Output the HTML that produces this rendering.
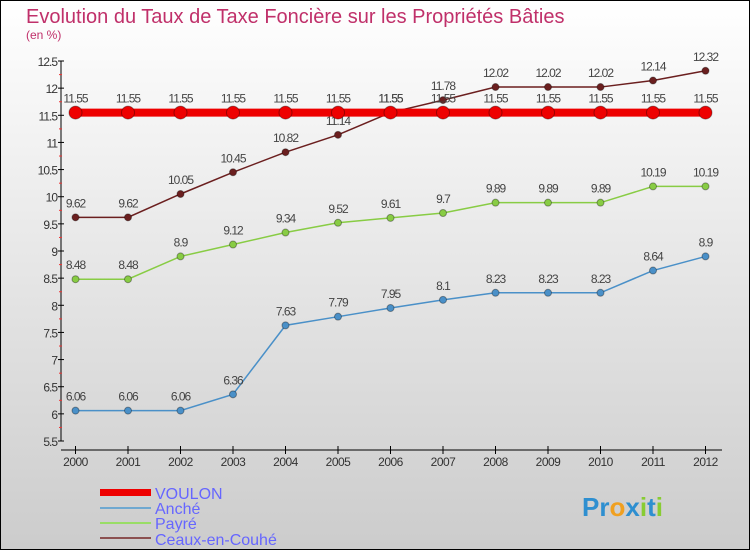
<!DOCTYPE html>
<html><head><meta charset="utf-8"><style>
body{margin:0}
#c{width:750px;height:550px;position:relative;font-family:"Liberation Sans",sans-serif;}
</style></head><body>
<div id="c">
<svg width="750" height="550" xmlns="http://www.w3.org/2000/svg" id="svg">
<defs><linearGradient id="bg" x1="0" y1="0" x2="0" y2="1"><stop offset="0" stop-color="#ffffff"/><stop offset="1" stop-color="#cccccc"/></linearGradient></defs>
<rect x="0.5" y="0.5" width="749" height="549" fill="url(#bg)" stroke="#000"/>
<text x="26" y="23" font-size="20" fill="#c0306a">Evolution du Taux de Taxe Foncière sur les Propriétés Bâties</text>
<text x="26" y="39" font-size="12" fill="#c0306a">(en %)</text>
<g id="axes"></g>
<g id="series"></g>
<g id="legend" font-size="16" fill="#6666ff">
<rect x="100" y="489" width="51" height="7" fill="#ee0000"/>
<text x="155" y="499">VOULON</text>
<rect x="100" y="507" width="51" height="2" fill="#6fa8d0"/>
<text x="155" y="514">Anché</text>
<rect x="100" y="522" width="51" height="2" fill="#99dd66"/>
<text x="155" y="529">Payré</text>
<rect x="100" y="537" width="51" height="2" fill="#8b5050"/>
<text x="155" y="545">Ceaux-en-Couhé</text>
</g>
<g font-size="26" font-weight="bold">
<text x="582" y="516"><tspan fill="#2e8fd0">Pr</tspan><tspan fill="#f0a020">o</tspan><tspan fill="#2e8fd0">x</tspan><tspan fill="#88cc33">i</tspan><tspan fill="#2e8fd0">t</tspan><tspan fill="#88cc33">i</tspan></text>
</g>
</svg>
</div>
<script>
const years=[2000,2001,2002,2003,2004,2005,2006,2007,2008,2009,2010,2011,2012];
const voulon=[11.55,11.55,11.55,11.55,11.55,11.55,11.55,11.55,11.55,11.55,11.55,11.55,11.55];
const anche=[6.06,6.06,6.06,6.36,7.63,7.79,7.95,8.1,8.23,8.23,8.23,8.64,8.9];
const payre=[8.48,8.48,8.9,9.12,9.34,9.52,9.61,9.7,9.89,9.89,9.89,10.19,10.19];
const ceaux=[9.62,9.62,10.05,10.45,10.82,11.14,11.55,11.78,12.02,12.02,12.02,12.14,12.32];
const yTicks=[5.5,6,6.5,7,7.5,8,8.5,9,9.5,10,10.5,11,11.5,12,12.5];
const NS="http://www.w3.org/2000/svg";
function X(i){return 75.5+i*52.5;}
function Y(v){return 441-(v-5.5)*(380/7);}
function mk(t,a,p){const e=document.createElementNS(NS,t);for(const k in a)e.setAttribute(k,a[k]);p.appendChild(e);return e;}
const ax=document.getElementById('axes');
let l=mk('line',{x1:61,y1:61,x2:61,y2:441,stroke:'#000'},ax);


l=mk('line',{x1:61,y1:450,x2:722,y2:450,stroke:'#000'},ax);


yTicks.forEach(v=>{
  const y=Y(v);
  mk('line',{x1:58,y1:y,x2:64,y2:y,stroke:'#000'},ax);
  const m=mk('line',{x1:59,y1:y+13.6,x2:62,y2:y+13.6,stroke:'#e33'},ax);
  if(v===5.5)m.remove();
  const t=mk('text',{x:57,y:y+5,'font-size':12,fill:'#333','text-anchor':'end','letter-spacing':'-1'},ax);
  t.textContent=String(v);
  
  
});
years.forEach((yr,i)=>{
  mk('line',{x1:X(i),y1:446,x2:X(i),y2:454,stroke:'#000'},ax);
  const t=mk('text',{x:X(i),y:466,'font-size':12,fill:'#333','text-anchor':'middle','letter-spacing':'-0.5'},ax);
  t.textContent=String(yr);
  
  
});
const sg=document.getElementById('series');
function draw(vals,color,w,r,name){
  const g=mk('g',{},sg);
  
  
  const pts=vals.map((v,i)=>X(i)+','+Y(v)).join(' ');
  mk('polyline',{points:pts,fill:'none',stroke:color,'stroke-width':w},g);
  vals.forEach((v,i)=>{
    const c=mk('circle',{cx:X(i),cy:Y(v),r:r,fill:color,stroke:'rgba(0,0,0,0.35)','stroke-width':1},g);
    
    
    const t=mk('text',{x:X(i),y:Y(v)-10,'font-size':12,fill:'#444','text-anchor':'middle','letter-spacing':'-1'},g);
    t.textContent=String(v);
    
    
  });
}
draw(anche,'#4a90c8',1.5,3.5,'anche');
draw(payre,'#88cc44',1.5,3.5,'payre');
draw(ceaux,'#6b1f1f',1.5,3.5,'ceaux');
draw(voulon,'#ee0000',8,6.5,'voulon');
</script>
</body></html>
